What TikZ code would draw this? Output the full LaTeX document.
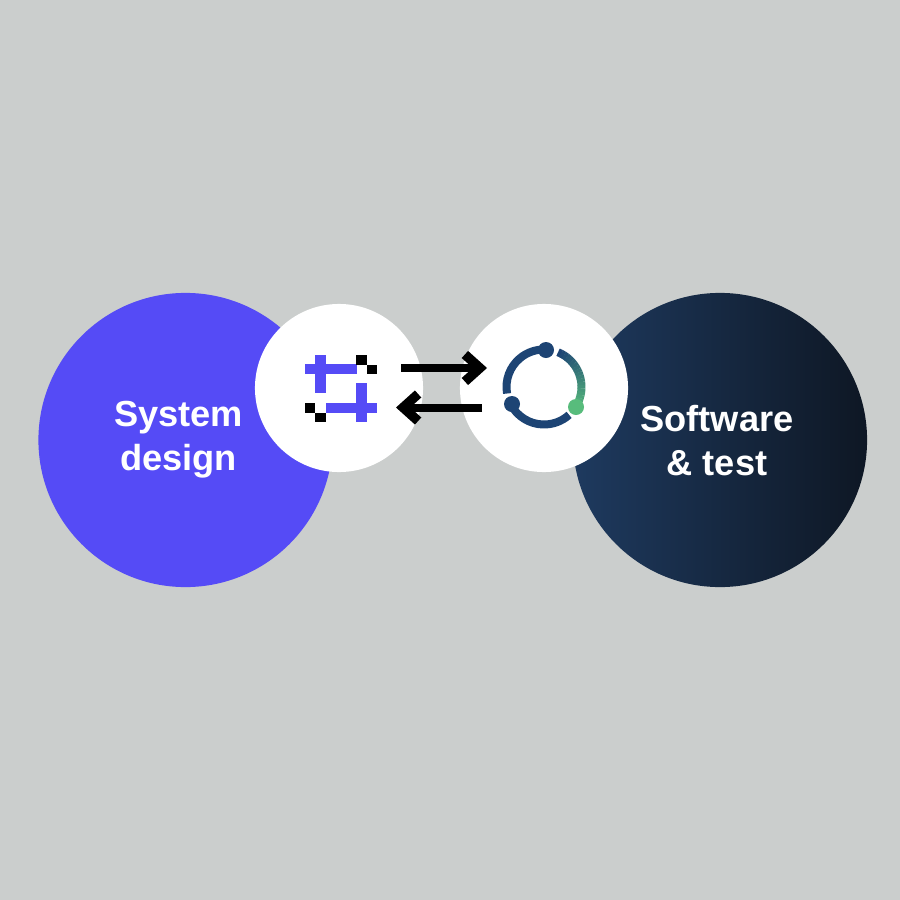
\documentclass[tikz,border=0pt]{standalone}
\usepackage{fontspec}
\setmainfont{Liberation Sans}
\usetikzlibrary{arrows.meta}
\definecolor{bgGrey}{HTML}{CBCECD}
\definecolor{sysBlue}{HTML}{554BF6}
\definecolor{navyA}{HTML}{1E3A5F}
\definecolor{navyB}{HTML}{0E1724}
\definecolor{ringBlue}{HTML}{1D4474}
\definecolor{ringGreen}{HTML}{58BC7C}
\tikzset{
	bigCircle/.style={circle,inner sep=0pt,minimum size=2.94cm},
	smallCircle/.style={circle,inner sep=0pt,minimum size=1.68cm,fill=white},
	bigLabel/.style={text=white,align=center,font=\fontsize{10.3pt}{12.5pt}\selectfont\bfseries},
	ringArc/.style={line width=0.08cm},
	ringDot/.style={circle,inner sep=0pt,minimum size=0.16cm}
}
\begin{document}
\begin{tikzpicture}[x=0.01cm,y=-0.01cm]

\path [use as bounding box,fill=bgGrey] (0,0) rectangle (900,900);

\node [bigCircle,fill=sysBlue] (system) at (185.5,440) {};
\node [bigCircle,left color=navyA,middle color=navyA!75!navyB,right color=navyB] (software) at (720,440) {};
\node [smallCircle] (iconA) at (339,388) {};
\node [smallCircle] (iconB) at (544,388) {};

\node [bigLabel] (systemText) at (178.5,440) {System\\design};
\node [bigLabel] (softwareText) at (717,441) {Software\\\& test};

% left icon
\fill [sysBlue] (305,364) rectangle (357,374);
\fill [sysBlue] (315,355) rectangle (326,393);
\fill [sysBlue] (326,403) rectangle (377,412.5);
\fill [sysBlue] (356,383) rectangle (367,422);
\fill [black] (356,355) rectangle (367,364.5);
\fill [black] (367,364.5) rectangle (377,374);
\fill [black] (305,403) rectangle (315,412.5);
\fill [black] (315,412.5) rectangle (326,422);

% right icon
\draw [ringArc,ringBlue] (544,387) ++(-190:37.5) arc [start angle=-190,end angle=-88,radius=37.5];
\draw [ringArc,ringBlue] (544,387) ++(-208:37.5) arc [start angle=-208,end angle=-312,radius=37.5];
\foreach \a in {0,...,19} {
	\pgfmathsetmacro{\mixval}{\a*5}
	\draw [ringArc,ringGreen!\mixval!ringBlue] (544,387) ++({-68+\a*5}:37.5) arc [start angle={-68+\a*5},end angle={-68+\a*5+5.5},radius=37.5];
}
\node [ringDot,fill=ringBlue] (dotA) at (546,350) {};
\node [ringDot,fill=ringBlue] (dotB) at (512,404) {};
\node [ringDot,fill=ringGreen] (dotC) at (576,407) {};

\coordinate (startA) at (401,368);
\coordinate (endA) at (487,368);
\coordinate (startB) at (482,407.5);
\coordinate (endB) at (396,407.5);

\begin{scope}[>={Straight Barb[length=1.5mm,width=2.7mm,line width=0.95mm,line cap=butt,line join=miter]},
              every edge/.style={draw=black,line width=0.08cm}]
	\path [->] (startA) edge (endA);
	\path [->] (startB) edge (endB);
\end{scope}
\end{tikzpicture}
\end{document}
